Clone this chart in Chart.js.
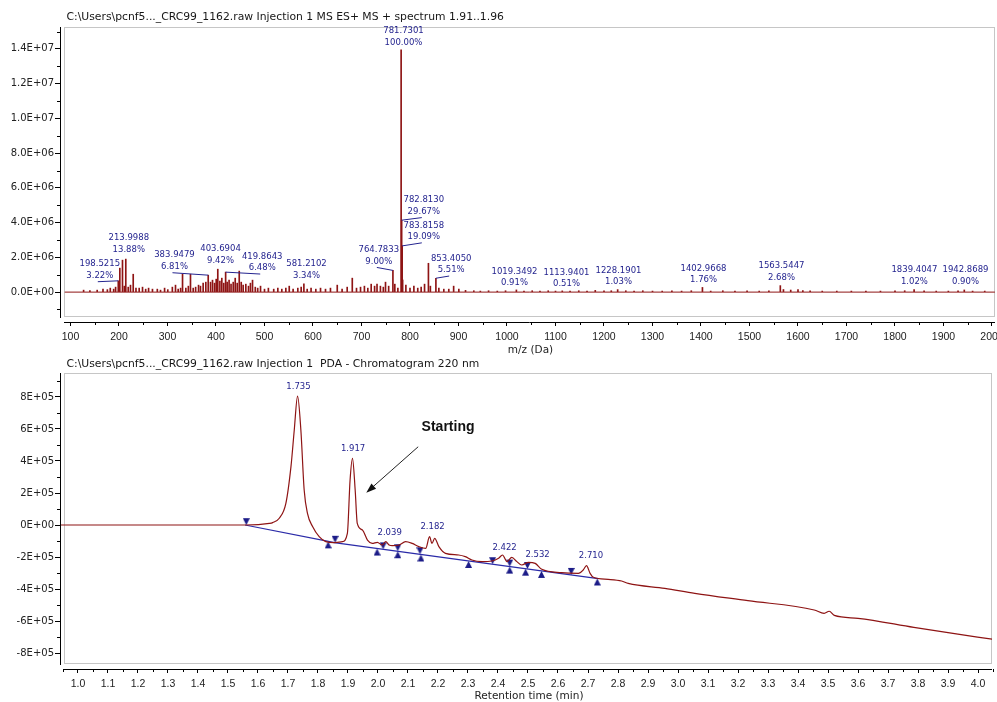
<!DOCTYPE html>
<html>
<head>
<meta charset="utf-8">
<script src="https://cdn.jsdelivr.net/npm/chart.js@4.4.1/dist/chart.umd.min.js"></script>
<style>
html, body { margin: 0; padding: 0; background: #fff; }
#wrap { position: relative; width: 997px; height: 702px; overflow: hidden; }
#ms { position: absolute; left: 0; top: 0; }
#pda { position: absolute; left: 0; top: 355px; }
</style>
</head>
<body>
<div id="wrap">
  <canvas id="ms" width="997" height="355"></canvas>
  <canvas id="pda" width="997" height="347"></canvas>
</div>
<script>
// ---- mass spectrum (top panel) ----
var msTitle = "C:\\Users\\pcnf5..._CRC99_1162.raw Injection 1 MS ES+ MS + spectrum 1.91..1.96";
var msAxisTitle = "m/z (Da)";

var peakMz = [
  127, 140, 155, 167, 176, 182, 189, 193, 198.5215, 201.7, 207.2, 211, 213.9988, 219, 223.7, 229.3,
  235, 241.6, 248.5, 255, 261, 269, 279, 285.6, 294, 300.6, 310, 316.5, 322, 327, 331, 337.8,
  343, 347.4, 353, 358, 364, 368, 373.5, 379, 383.9479, 388.7, 392.8, 397, 400.4, 403.6904, 408, 412,
  416, 419.8643, 423, 427, 431, 435.5, 439.6, 443.7, 447.9, 452, 456, 461.5, 467, 471, 475.3, 481,
  486, 491.8, 500, 508, 519, 527.5, 535.7, 544, 551, 559, 568.7, 575.6, 581.2102, 588, 596, 605.8,
  615.5, 625.8, 636, 650, 660, 670.5, 681, 689.7, 698, 706, 713, 720, 727, 732, 739, 745,
  749.5, 756, 764.7833, 768.7, 775, 781.7301, 782.8130, 783.8158, 784.82, 791.5, 800, 808, 816, 823, 830, 838,
  842, 853.4050, 859.5, 869.7, 880, 890, 900.7, 914.5, 931.6, 945, 962, 980, 997, 1019.3492, 1035, 1052,
  1068, 1085, 1100, 1113.9401, 1130, 1148, 1165, 1182, 1200, 1215, 1228.1901, 1245, 1262, 1280, 1300, 1320,
  1340, 1360, 1380, 1402.9668, 1420, 1445, 1470, 1495, 1520, 1540, 1563.5447, 1570, 1585, 1600, 1610, 1625,
  1650, 1680, 1710, 1740, 1770, 1800, 1820, 1839.4047, 1860, 1885, 1910, 1930, 1942.8689, 1960, 1985
];
var peakIntensity = [
  115e3, 86e3, 115e3, 172e3, 143e3, 230e3, 172e3, 287e3, 650e3, 1380e3, 1840e3, 344e3, 1900e3, 287e3, 402e3, 1030e3,
  230e3, 230e3, 287e3, 172e3, 230e3, 172e3, 172e3, 115e3, 230e3, 143e3, 287e3, 402e3, 172e3, 230e3, 1030e3, 230e3,
  344e3, 1030e3, 230e3, 287e3, 402e3, 344e3, 517e3, 574e3, 976e3, 574e3, 689e3, 517e3, 746e3, 1320e3, 631e3, 804e3,
  517e3, 1150e3, 574e3, 689e3, 459e3, 574e3, 804e3, 517e3, 1210e3, 574e3, 402e3, 459e3, 344e3, 517e3, 689e3, 287e3,
  230e3, 344e3, 172e3, 230e3, 172e3, 230e3, 172e3, 230e3, 344e3, 172e3, 230e3, 287e3, 470e3, 172e3, 230e3, 172e3,
  230e3, 172e3, 230e3, 402e3, 172e3, 287e3, 804e3, 230e3, 287e3, 344e3, 230e3, 459e3, 344e3, 459e3, 344e3, 287e3,
  574e3, 344e3, 1250e3, 459e3, 230e3, 13940e3, 4140e3, 2660e3, 700e3, 402e3, 230e3, 344e3, 230e3, 287e3, 459e3, 1660e3,
  344e3, 800e3, 230e3, 172e3, 172e3, 344e3, 172e3, 100e3, 80e3, 60e3, 80e3, 60e3, 80e3, 127e3, 60e3, 80e3,
  60e3, 80e3, 60e3, 71e3, 60e3, 80e3, 60e3, 100e3, 80e3, 80e3, 144e3, 80e3, 60e3, 80e3, 60e3, 60e3,
  80e3, 60e3, 80e3, 270e3, 60e3, 80e3, 60e3, 80e3, 60e3, 80e3, 374e3, 150e3, 120e3, 140e3, 90e3, 80e3,
  60e3, 60e3, 60e3, 60e3, 60e3, 80e3, 80e3, 142e3, 80e3, 60e3, 60e3, 80e3, 125e3, 60e3, 60e3
];
var msFloorMz = [88, 2006];

var msLabelMz = [198.5215, 213.9988, 383.9479, 403.6904, 419.8643, 581.2102, 764.7833, 781.7301, 782.8130,
  783.8158, 853.4050, 1019.3492, 1113.9401, 1228.1901, 1402.9668, 1563.5447, 1839.4047, 1942.8689];
var msLabelPct = ["3.22%", "13.88%", "6.81%", "9.42%", "6.48%", "3.34%", "9.00%", "100.00%", "29.67%",
  "19.09%", "5.51%", "0.91%", "0.51%", "1.03%", "1.76%", "2.68%", "1.02%", "0.90%"];
// where each label sits, in m/z and counts, and whether it has a leader line
var msLabelAt = [
  [160.4, 1.606e6, 1], [220.2, 3.098e6, 0], [314.4, 2.123e6, 1], [409.3, 2.467e6, 0], [495.3, 2.048e6, 1],
  [586.6, 1.606e6, 0], [735.7, 2.427e6, 1], [786.6, 15.03e6, 0], [828.5, 5.296e6, 1], [828.5, 3.844e6, 1],
  [884.9, 1.933e6, 1], [1015.5, 1.176e6, 0], [1122.7, 1.119e6, 0], [1229.9, 1.233e6, 0], [1405.2, 1.348e6, 0],
  [1566, 1.49e6, 0], [1840, 1.262e6, 0], [1945.4, 1.262e6, 0]
];

var msXTicks = [100, 200, 300, 400, 500, 600, 700, 800, 900, 1000, 1100, 1200, 1300, 1400, 1500, 1600, 1700, 1800, 1900, 2000];
var msYTicks = [0, 2e6, 4e6, 6e6, 8e6, 10e6, 12e6, 14e6];

// ---- PDA chromatogram (bottom panel) ----
var pdaTitle = "C:\\Users\\pcnf5..._CRC99_1162.raw Injection 1  PDA - Chromatogram 220 nm";
var pdaAxisTitle = "Retention time (min)";

var pdaTime = [
  0.940, 1.200, 1.472, 1.561, 1.638, 1.649, 1.671, 1.693, 1.710, 1.721, 1.732, 1.743, 1.754, 1.765, 1.782, 1.804,
  1.826, 1.854, 1.881, 1.898, 1.907, 1.915, 1.924, 1.931, 1.948, 1.965, 1.981, 1.998, 2.014, 2.026, 2.037, 2.048,
  2.070, 2.092, 2.114, 2.136, 2.159, 2.172, 2.180, 2.189, 2.203, 2.225, 2.269, 2.291, 2.313, 2.347, 2.380, 2.402,
  2.415, 2.430, 2.446, 2.463, 2.479, 2.502, 2.524, 2.546, 2.612, 2.668, 2.684, 2.695, 2.707, 2.718, 2.767, 2.812,
  2.834, 2.956, 3.056, 3.233, 3.454, 3.487, 3.504, 3.521, 3.600, 3.786, 3.900, 4.047
];
var pdaSignal = [
  0, 0, 0, 0, 0.10e5, 0.15e5, 0.42e5, 1.35e5, 3.65e5, 5.94e5, 8.06e5, 5.94e5, 2.19e5, 0.73e5, -0.10e5, -0.73e5,
  -1.04e5, -1.10e5, -1.04e5, -0.52e5, 2.81e5, 4.17e5, 2.19e5, 0.10e5, -0.31e5, -0.94e5, -1.15e5, -1.08e5, -1.25e5, -1.04e5, -1.25e5, -1.29e5,
  -1.25e5, -1.04e5, -1.15e5, -1.35e5, -1.46e5, -0.73e5, -1.15e5, -0.83e5, -1.35e5, -1.77e5, -1.875e5, -1.98e5, -2.19e5, -2.29e5, -2.25e5, -2.08e5,
  -1.875e5, -2.29e5, -2.02e5, -2.29e5, -2.50e5, -2.33e5, -2.40e5, -2.77e5, -2.98e5, -3.02e5, -2.81e5, -2.54e5, -3.02e5, -3.27e5, -3.40e5, -3.50e5,
  -3.65e5, -3.96e5, -4.27e5, -4.73e5, -5.31e5, -5.52e5, -5.39e5, -5.65e5, -5.83e5, -6.40e5, -6.73e5, -7.14e5
];

// integration baseline and its start / end markers
var baseTime = [1.557, 1.835, 1.854, 2.734];
var baseSignal = [0, -1.02e5, -1.10e5, -3.35e5];
var startTime = [1.561, 1.857, 2.017, 2.066, 2.140, 2.382, 2.439, 2.498, 2.644];
var startSignal = [-0.01e5, -1.11e5, -1.52e5, -1.64e5, -1.83e5, -2.45e5, -2.60e5, -2.75e5, -3.12e5];
var endTime = [1.834, 1.997, 2.066, 2.143, 2.302, 2.439, 2.492, 2.545, 2.731];
var endSignal = [-1.02e5, -1.47e5, -1.64e5, -1.84e5, -2.25e5, -2.60e5, -2.73e5, -2.87e5, -3.34e5];

var pdaPeakTimes = [1.735, 1.917, 2.039, 2.182, 2.422, 2.532, 2.710];
var pdaPeakLabelY = [8.64e5, 4.75e5, -0.48e5, -0.11e5, -1.40e5, -1.88e5, -1.94e5];

var noteText = "Starting";
var noteAt = [2.2335, 6.1e5];
var arrowFrom = [2.134, 4.89e5];
var arrowTo = [1.961, 2.02e5];

var pdaXTicks = [1.0, 1.1, 1.2, 1.3, 1.4, 1.5, 1.6, 1.7, 1.8, 1.9, 2.0, 2.1, 2.2, 2.3, 2.4, 2.5, 2.6, 2.7, 2.8, 2.9,
  3.0, 3.1, 3.2, 3.3, 3.4, 3.5, 3.6, 3.7, 3.8, 3.9, 4.0];
var pdaYTicks = [-8e5, -6e5, -4e5, -2e5, 0, 2e5, 4e5, 6e5, 8e5];

// ---- styles ----
var RED = "#8e1414";
var NAVY = "#24248f";
var BLUE = "#2a2aa8";
var labelFont = '8.5px "DejaVu Sans"';

function fmtExp(v, digits) {
  if (v === 0) return (0).toFixed(digits) + "E+00";
  var e = Math.floor(Math.log10(Math.abs(v)) + 1e-9);
  var m = v / Math.pow(10, e);
  return m.toFixed(digits) + "E" + (e < 0 ? "-" : "+") + String(Math.abs(e)).padStart(2, "0");
}

function midpoints(list) {
  var out = [];
  for (var i = 0; i < list.length - 1; i++) out.push((list[i] + list[i + 1]) / 2);
  return out;
}

// gray frame, offset axis lines, minor ticks, panel title and axis title
function framePlugin(title, titleY, axisTitle, axisTitleY, xMinor, yMinor) {
  return {
    id: "frame",
    beforeDatasetsDraw: function (chart) {
      var ctx = chart.ctx, a = chart.chartArea;
      ctx.save();
      ctx.strokeStyle = "#c6c6c6";
      ctx.lineWidth = 1;
      ctx.strokeRect(a.left + 4.5, a.top + 0.5, a.right - a.left - 5, a.bottom - a.top - 6);
      ctx.restore();
    },
    afterDraw: function (chart) {
      var ctx = chart.ctx, a = chart.chartArea;
      var xs = chart.scales.x, ys = chart.scales.y;
      ctx.save();
      ctx.strokeStyle = "#000";
      ctx.lineWidth = 1;
      ctx.beginPath();
      ctx.moveTo(a.left + 0.5, a.top);
      ctx.lineTo(a.left + 0.5, a.bottom - 4);
      ctx.moveTo(a.left + 4, a.bottom + 0.5);
      ctx.lineTo(a.right, a.bottom + 0.5);
      xMinor.forEach(function (v) {
        var px = Math.round(xs.getPixelForValue(v)) + 0.5;
        ctx.moveTo(px, a.bottom);
        ctx.lineTo(px, a.bottom + 3);
      });
      yMinor.forEach(function (v) {
        var py = Math.round(ys.getPixelForValue(v)) + 0.5;
        if (py < a.top - 1 || py > a.bottom) return;
        ctx.moveTo(a.left - 3, py);
        ctx.lineTo(a.left, py);
      });
      ctx.stroke();

      ctx.fillStyle = "#161616";
      ctx.font = '10.8px "DejaVu Sans"';
      ctx.textAlign = "left";
      ctx.textBaseline = "middle";
      ctx.fillText(title, a.left + 6.5, titleY);
      ctx.fillStyle = "#222";
      ctx.font = '10.5px "DejaVu Sans"';
      ctx.textAlign = "center";
      ctx.fillText(axisTitle, (a.left + a.right) / 2 + 3, axisTitleY);
      ctx.restore();
    }
  };
}

function xAxis(min, max, ticks, fmt) {
  return {
    type: "linear", min: min, max: max, offset: false,
    afterFit: function (s) { s.height = 33; s.paddingLeft = 0; s.paddingRight = 0; },
    afterBuildTicks: function (s) { s.ticks = ticks.map(function (v) { return { value: v }; }); },
    ticks: { autoSkip: false, maxRotation: 0, minRotation: 0, padding: 5, color: "#222",
      font: { family: '"Liberation Sans", Arial, sans-serif', size: 10.5 }, callback: fmt },
    grid: { drawOnChartArea: false, offset: false, tickLength: 4, color: "#000", tickColor: "#000" },
    border: { display: false }
  };
}

function yAxis(min, max, ticks, digits) {
  return {
    type: "linear", min: min, max: max,
    afterFit: function (s) { s.width = 60; s.paddingTop = 0; s.paddingBottom = 0; },
    afterBuildTicks: function (s) { s.ticks = ticks.map(function (v) { return { value: v }; }); },
    ticks: { padding: 1, color: "#222", font: { family: '"DejaVu Sans", sans-serif', size: 10 },
      callback: function (v) { return fmtExp(v, digits); } },
    grid: { drawOnChartArea: false, tickLength: 5, color: "#000", tickColor: "#000" },
    border: { display: false }
  };
}

// ---- top chart ----
var msLabels = {
  id: "msLabels",
  afterDatasetsDraw: function (chart) {
    var ctx = chart.ctx, xs = chart.scales.x, ys = chart.scales.y;
    ctx.save();
    ctx.font = labelFont;
    ctx.fillStyle = NAVY;
    ctx.strokeStyle = NAVY;
    ctx.lineWidth = 1;
    ctx.textAlign = "center";
    ctx.textBaseline = "middle";
    msLabelMz.forEach(function (mz, i) {
      var at = msLabelAt[i];
      var cx = xs.getPixelForValue(at[0]), cy = ys.getPixelForValue(at[1]);
      ctx.fillText(mz.toFixed(4), cx, cy);
      ctx.fillText(msLabelPct[i], cx, cy + 11.5);
      if (at[2]) {
        var k = peakMz.indexOf(mz);
        ctx.beginPath();
        ctx.moveTo(cx - 2, cy + 17.5);
        ctx.lineTo(xs.getPixelForValue(mz), ys.getPixelForValue(peakIntensity[k]));
        ctx.stroke();
      }
    });
    ctx.restore();
  }
};

new Chart(document.getElementById("ms"), {
  type: "bar",
  data: {
    datasets: [
      {
        type: "line",
        data: msFloorMz.map(function (m) { return { x: m, y: 0 }; }),
        borderColor: RED, borderWidth: 1, pointRadius: 0
      },
      {
        type: "bar",
        data: peakMz.map(function (m, i) { return { x: m, y: peakIntensity[i] }; }),
        backgroundColor: RED, borderWidth: 0, barThickness: 1, grouped: false
      }
    ]
  },
  options: {
    responsive: false, animation: false,
    layout: { padding: { top: 27, right: 2, left: 0, bottom: 0 } },
    plugins: { legend: { display: false }, tooltip: { enabled: false } },
    scales: {
      x: xAxis(78.35, 2006.2, msXTicks, function (v) { return String(v); }),
      y: yAxis(-1.72e6, 15.26e6, msYTicks, 1)
    }
  },
  plugins: [
    framePlugin(msTitle, 17, msAxisTitle, 350, midpoints(msXTicks),
      [-1e6, 1e6, 3e6, 5e6, 7e6, 9e6, 11e6, 13e6, 15e6]),
    msLabels
  ]
});

// ---- bottom chart ----
function triangleImage(pointingDown) {
  var c = document.createElement("canvas");
  c.width = 7; c.height = 16;
  var g = c.getContext("2d");
  g.fillStyle = "#1c1c88";
  g.beginPath();
  if (pointingDown) {
    g.moveTo(0, 1); g.lineTo(7, 1); g.lineTo(3.5, 8);
  } else {
    g.moveTo(3.5, 8); g.lineTo(7, 15); g.lineTo(0, 15);
  }
  g.closePath();
  g.fill();
  return c;
}

var pdaLabels = {
  id: "pdaLabels",
  afterDatasetsDraw: function (chart) {
    var ctx = chart.ctx, xs = chart.scales.x, ys = chart.scales.y;
    ctx.save();
    ctx.font = labelFont;
    ctx.fillStyle = NAVY;
    ctx.textAlign = "center";
    ctx.textBaseline = "middle";
    pdaPeakTimes.forEach(function (t, i) {
      ctx.fillText(t.toFixed(3), xs.getPixelForValue(t), ys.getPixelForValue(pdaPeakLabelY[i]));
    });

    ctx.fillStyle = "#111";
    ctx.font = 'bold 14px "Liberation Sans", Arial, sans-serif';
    ctx.fillText(noteText, xs.getPixelForValue(noteAt[0]), ys.getPixelForValue(noteAt[1]));

    var x0 = xs.getPixelForValue(arrowFrom[0]), y0 = ys.getPixelForValue(arrowFrom[1]);
    var x1 = xs.getPixelForValue(arrowTo[0]), y1 = ys.getPixelForValue(arrowTo[1]);
    var ang = Math.atan2(y1 - y0, x1 - x0);
    ctx.strokeStyle = "#222";
    ctx.lineWidth = 1;
    ctx.beginPath();
    ctx.moveTo(x0, y0);
    ctx.lineTo(x1 - 6 * Math.cos(ang), y1 - 6 * Math.sin(ang));
    ctx.stroke();
    ctx.fillStyle = "#111";
    ctx.beginPath();
    ctx.moveTo(x1, y1);
    ctx.lineTo(x1 - 10 * Math.cos(ang) + 3.5 * Math.sin(ang), y1 - 10 * Math.sin(ang) - 3.5 * Math.cos(ang));
    ctx.lineTo(x1 - 10 * Math.cos(ang) - 3.5 * Math.sin(ang), y1 - 10 * Math.sin(ang) + 3.5 * Math.cos(ang));
    ctx.closePath();
    ctx.fill();
    ctx.restore();
  }
};

function pts(xsArr, ysArr) {
  return xsArr.map(function (x, i) { return { x: x, y: ysArr[i] }; });
}

new Chart(document.getElementById("pda"), {
  type: "line",
  data: {
    datasets: [
      {
        data: pts(pdaTime, pdaSignal),
        borderColor: RED, borderWidth: 1.2, pointRadius: 0,
        cubicInterpolationMode: "monotone"
      },
      {
        data: pts(baseTime, baseSignal),
        borderColor: BLUE, borderWidth: 1.2, pointRadius: 0
      },
      {
        data: pts(startTime, startSignal), showLine: false,
        pointStyle: triangleImage(true), pointRadius: 4
      },
      {
        data: pts(endTime, endSignal), showLine: false,
        pointStyle: triangleImage(false), pointRadius: 4
      }
    ]
  },
  options: {
    responsive: false, animation: false,
    layout: { padding: { top: 18, right: 2, left: 0, bottom: 0 } },
    plugins: { legend: { display: false }, tooltip: { enabled: false } },
    scales: {
      x: xAxis(0.9402, 4.0465, pdaXTicks, function (v) { return v.toFixed(1); }),
      y: yAxis(-9e5, 9.5e5, pdaYTicks, 0)
    }
  },
  plugins: [
    framePlugin(pdaTitle, 9.5, pdaAxisTitle, 341, midpoints(pdaXTicks).concat([0.95, 4.05]),
      [-9e5, -7e5, -5e5, -3e5, -1e5, 1e5, 3e5, 5e5, 7e5, 9e5]),
    pdaLabels
  ]
});
</script>
</body>
</html>
